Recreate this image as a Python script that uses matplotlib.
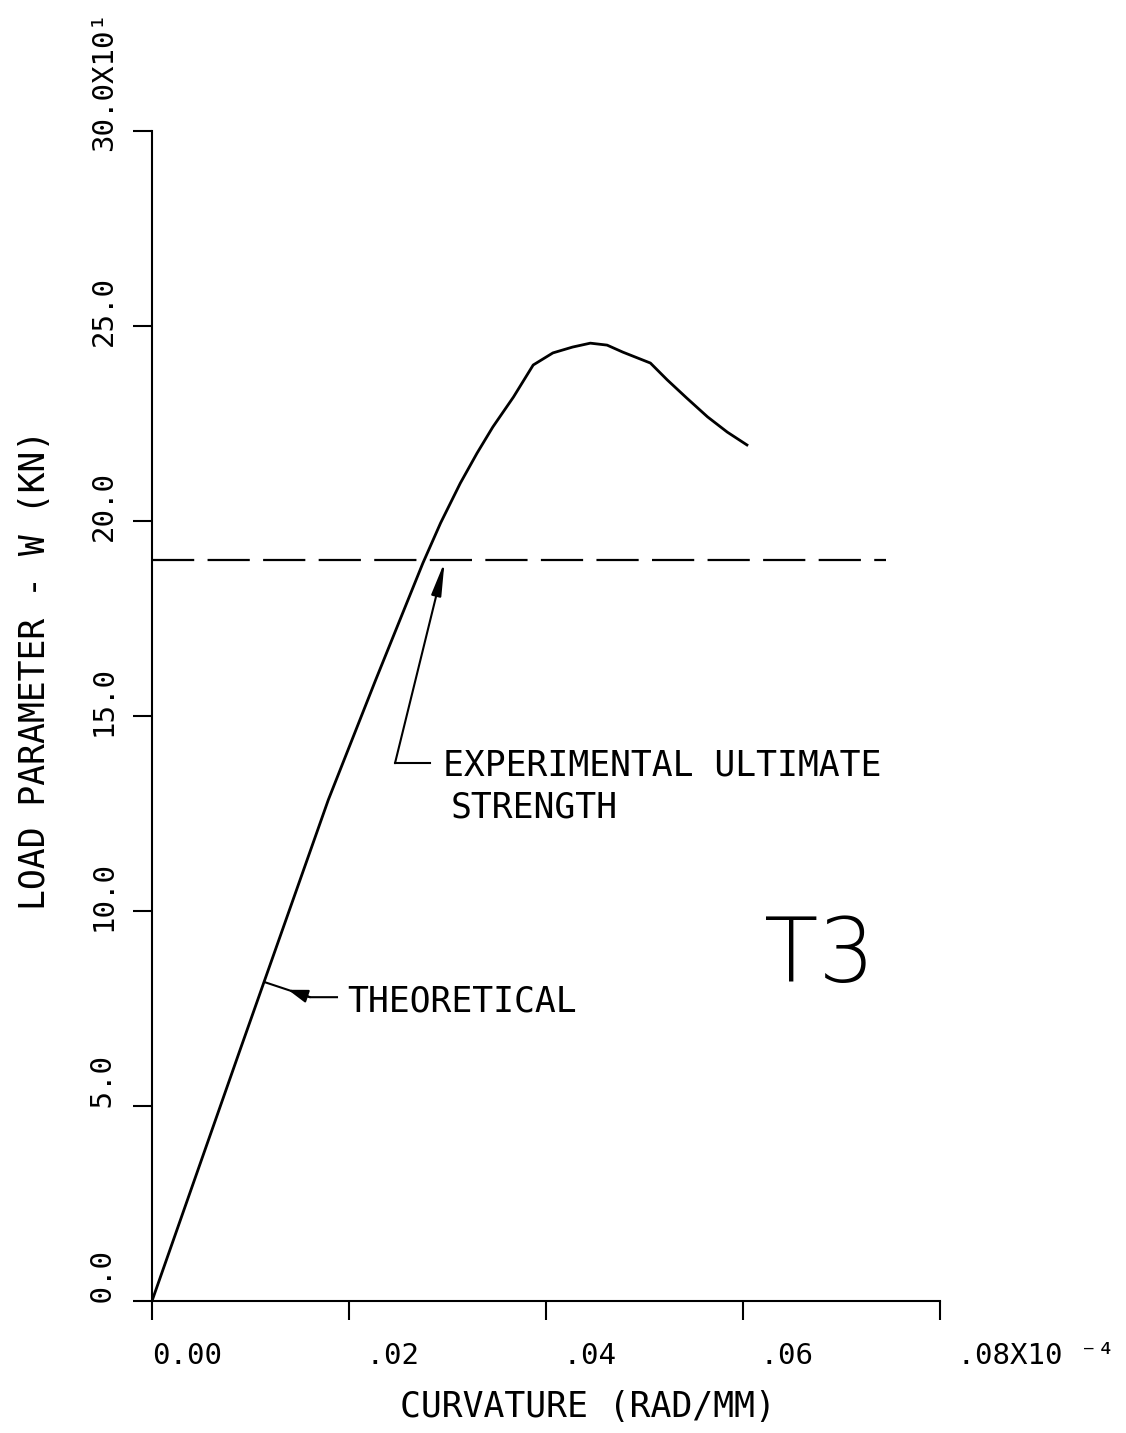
import matplotlib
matplotlib.use('Agg')
import matplotlib.pyplot as plt
from matplotlib.transforms import ScaledTranslation

plt.rcParams['font.family'] = ['DejaVu Sans Mono', 'DejaVu Sans']

# theoretical curve: curvature (x1e-4 rad/mm) vs load parameter W (x10 kN)
curvature = [0.0, 0.0089, 0.0179, 0.0227, 0.0275, 0.0293, 0.0313, 0.0330,
             0.0346, 0.0367, 0.0387, 0.0407, 0.0427, 0.0445, 0.0462, 0.0478,
             0.0506, 0.0523, 0.0543, 0.0564, 0.0584, 0.0604]
load = [0.0, 6.41, 12.85, 15.92, 18.92, 19.95, 20.97, 21.74,
        22.41, 23.18, 24.00, 24.31, 24.46, 24.56, 24.51, 24.33,
        24.05, 23.62, 23.15, 22.67, 22.28, 21.95]

# experimental ultimate strength (dashed line)
exp_ultimate = 19.0
exp_line_end = 0.0745

xticks = [0.0, 0.02, 0.04, 0.06, 0.08]
xtick_labels = ['0.00', ' .02', ' .04', ' .06', ' .08X10 \u207b\u2074']
yticks = [0, 5, 10, 15, 20, 25, 30]
ytick_labels = [' 0.0', ' 5.0', '10.0', '15.0', '20.0', '25.0', '30.0X10\u00b9']

fig = plt.figure(figsize=(11.26, 14.33), dpi=100)
ax = fig.add_axes([152 / 1126, 132 / 1433, 788 / 1126, 1170 / 1433])

ax.plot(curvature, load, color='black', lw=2.0)
ax.plot([0, exp_line_end], [exp_ultimate, exp_ultimate], color='black',
        lw=1.6, dashes=(19, 6))

ax.set_xlim(0, 0.08)
ax.set_ylim(0, 30)
for side in ['top', 'right']:
    ax.spines[side].set_visible(False)
for side in ['left', 'bottom']:
    ax.spines[side].set_linewidth(1.5)

ax.set_xticks(xticks, xtick_labels)
ax.set_yticks(yticks, ytick_labels)
ax.tick_params(direction='out', length=13.5, width=1.5, labelsize=21)
ax.tick_params(axis='x', pad=16)
ax.tick_params(axis='y', pad=11, labelrotation=90)

for lab in ax.get_xticklabels():
    lab.set_horizontalalignment('left')
down = ScaledTranslation(0, -20 / 100, fig.dpi_scale_trans)
for lab in ax.get_yticklabels():
    lab.set_verticalalignment('bottom')
    lab.set_transform(lab.get_transform() + down)

ax.set_xlabel('CURVATURE (RAD/MM)', fontsize=25, va='center')
ax.xaxis.set_label_coords(0.553, -0.0906)
ax.set_ylabel('LOAD PARAMETER - W (KN)', fontsize=25, va='center')
ax.yaxis.set_label_coords(-0.148, 0.539)

# "THEORETICAL" leader
ax.plot([0.01878, 0.01604, 0.01139], [7.79, 7.79, 8.18], color='black', lw=1.5)
ax.annotate('', xy=(0.01381, 7.98), xytext=(0.01604, 7.79),
            arrowprops=dict(arrowstyle='-|>,head_length=0.6,head_width=0.2',
                            color='black', lw=1.5, shrinkA=0, shrinkB=0,
                            mutation_scale=20))
ax.text(0.0198, 7.43, 'THEORETICAL', fontsize=25, ha='left', va='baseline')

# "EXPERIMENTAL ULTIMATE STRENGTH" leader
ax.plot([0.02822, 0.02467], [13.79, 13.79], color='black', lw=1.5)
ax.annotate('', xy=(0.0297, 18.95), xytext=(0.02467, 13.79),
            arrowprops=dict(arrowstyle='-|>,head_length=1.0,head_width=0.15',
                            color='black', lw=1.5, shrinkA=0, shrinkB=0,
                            mutation_scale=20))
ax.text(0.02954, 13.47, 'EXPERIMENTAL ULTIMATE', fontsize=25, ha='left', va='baseline')
ax.text(0.03036, 12.39, 'STRENGTH', fontsize=25, ha='left', va='baseline')

ax.text(0.0678, 8.19, 'T3', fontsize=64, family='DejaVu Sans', fontweight=200,
        ha='center', va='baseline')

fig.savefig('out.png', dpi=100)
